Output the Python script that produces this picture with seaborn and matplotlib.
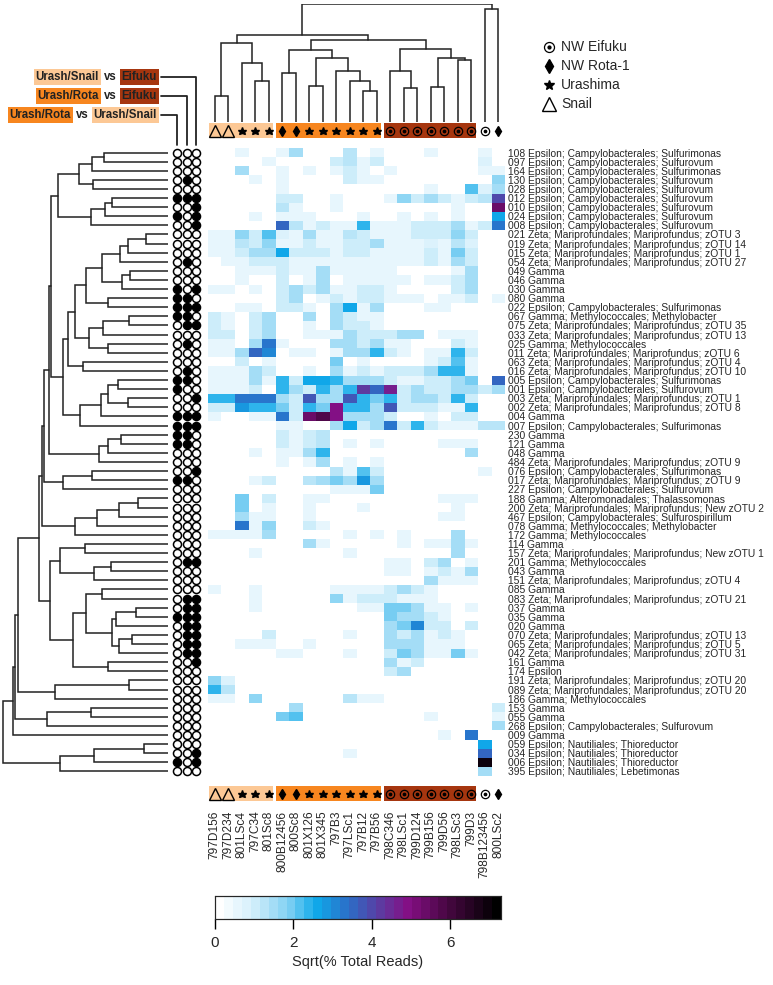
import numpy as np
import pandas as pd
import matplotlib
matplotlib.use("Agg")
import matplotlib.pyplot as plt
import seaborn as sns
from matplotlib.colors import LinearSegmentedColormap
from matplotlib.patches import Rectangle

W, H = 773, 985

samples = ['797D156', '797D234', '801LSc4', '797C34', '801Sc8', '800B12456', '800Sc8',
           '801X126', '801X345', '797B3', '797LSc1', '797B12', '797B56', '798C346',
           '798LSc1', '799D124', '799B156', '799D56', '798LSc3', '799D3', '798B123456', '800LSc2']
sites = ['Snail', 'Snail', 'Urashima', 'Urashima', 'Urashima', 'NW Rota-1', 'NW Rota-1',
         'Urashima', 'Urashima', 'Urashima', 'Urashima', 'Urashima', 'Urashima',
         'NW Eifuku', 'NW Eifuku', 'NW Eifuku', 'NW Eifuku', 'NW Eifuku', 'NW Eifuku', 'NW Eifuku',
         'NW Eifuku', 'NW Rota-1']
groups = ['Urash/Snail'] * 5 + ['Urash/Rota'] * 8 + ['Eifuku'] * 7 + [None, None]

otu_labels = [
    '108 Epsilon; Campylobacterales; Sulfurimonas', '097 Epsilon; Campylobacterales; Sulfurovum',
    '164 Epsilon; Campylobacterales; Sulfurimonas', '130 Epsilon; Campylobacterales; Sulfurovum',
    '028 Epsilon; Campylobacterales; Sulfurovum', '012 Epsilon; Campylobacterales; Sulfurovum',
    '010 Epsilon; Campylobacterales; Sulfurovum', '024 Epsilon; Campylobacterales; Sulfurovum',
    '008 Epsilon; Campylobacterales; Sulfurovum', '021 Zeta; Mariprofundales; Mariprofundus; zOTU 3',
    '019 Zeta; Mariprofundales; Mariprofundus; zOTU 14', '015 Zeta; Mariprofundales; Mariprofundus; zOTU 1',
    '054 Zeta; Mariprofundales; Mariprofundus; zOTU 27', '049 Gamma', '046 Gamma', '030 Gamma', '080 Gamma',
    '022 Epsilon; Campylobacterales; Sulfurimonas', '067 Gamma; Methylococcales; Methylobacter',
    '075 Zeta; Mariprofundales; Mariprofundus; zOTU 35', '033 Zeta; Mariprofundales; Mariprofundus; zOTU 13',
    '025 Gamma; Methylococcales', '011 Zeta; Mariprofundales; Mariprofundus; zOTU 6',
    '063 Zeta; Mariprofundales; Mariprofundus; zOTU 4', '016 Zeta; Mariprofundales; Mariprofundus; zOTU 10',
    '005 Epsilon; Campylobacterales; Sulfurimonas', '001 Epsilon; Campylobacterales; Sulfurovum',
    '003 Zeta; Mariprofundales; Mariprofundus; zOTU 1', '002 Zeta; Mariprofundales; Mariprofundus; zOTU 8',
    '004 Gamma', '007 Epsilon; Campylobacterales; Sulfurimonas', '230 Gamma', '121 Gamma', '048 Gamma',
    '484 Zeta; Mariprofundales; Mariprofundus; zOTU 9', '076 Epsilon; Campylobacterales; Sulfurimonas',
    '017 Zeta; Mariprofundales; Mariprofundus; zOTU 9', '227 Epsilon; Campylobacterales; Sulfurovum',
    '188 Gamma; Alteromonadales; Thalassomonas', '200 Zeta; Mariprofundales; Mariprofundus; New zOTU 2',
    '467 Epsilon; Campylobacterales; Sulfurospirillum', '078 Gamma; Methylococcales; Methylobacter',
    '172 Gamma; Methylococcales', '114 Gamma', '157 Zeta; Mariprofundales; Mariprofundus; New zOTU 1',
    '201 Gamma; Methylococcales', '043 Gamma', '151 Zeta; Mariprofundales; Mariprofundus; zOTU 4',
    '085 Gamma', '083 Zeta; Mariprofundales; Mariprofundus; zOTU 21', '037 Gamma', '035 Gamma', '020 Gamma',
    '070 Zeta; Mariprofundales; Mariprofundus; zOTU 13', '065 Zeta; Mariprofundales; Mariprofundus; zOTU 5',
    '042 Zeta; Mariprofundales; Mariprofundus; zOTU 31', '161 Gamma', '174 Epsilon',
    '191 Zeta; Mariprofundales; Mariprofundus; zOTU 20', '089 Zeta; Mariprofundales; Mariprofundus; zOTU 20',
    '186 Gamma; Methylococcales', '153 Gamma', '055 Gamma', '268 Epsilon; Campylobacterales; Sulfurovum',
    '009 Gamma', '059 Epsilon; Nautiliales; Thioreductor', '034 Epsilon; Nautiliales; Thioreductor',
    '006 Epsilon; Nautiliales; Thioreductor', '395 Epsilon; Nautiliales; Lebetimonas']

# sqrt(% total reads), one row per OTU, one column per sample
abundance = [
    [0, 0, .5, 0, 0, .5, 1.5, 0, 0, 0, 1.3, 0, .5, 0, 0, 0, .5, 0, 0, 0, .5, 0],
    [0, 0, 0, 0, .5, 0, 0, 0, 0, 1, 1.3, .5, 1, 0, 0, 0, 0, 0, 0, 0, .8, 0],
    [0, 0, 1.5, 0, 0, .5, 0, .5, 0, .5, 1, .5, 0, .5, 0, 0, 0, 0, 0, 0, .5, .5],
    [0, 0, 0, .5, 0, .5, 0, 0, 0, 0, 1, .5, .5, 0, 0, 0, 0, 0, 0, 0, 0, 1.6],
    [0, 0, 0, 0, 0, .5, 0, 0, 0, 0, 0, 0, 0, 0, 0, 0, .5, 0, 0, 2.2, .8, 1.5],
    [0, 0, 0, 0, 0, 1, 1, 0, 0, .5, 0, 0, 0, .5, 1.8, 1, 1.5, 1, .5, 1, 1.2, 4.0],
    [0, 0, 0, 0, 0, 1.3, .5, 0, 0, .5, 0, 0, 0, 0, 0, 0, 0, 0, .5, 0, 0, 5.3],
    [0, 0, 0, .5, 0, .5, .5, .5, 0, 0, 0, .5, 0, 0, .5, 0, .5, 0, .5, 0, 0, 2.7],
    [0, 0, 0, 0, 0, 3.6, 1.2, .5, 1, .5, .5, 2.3, .5, .5, .5, 1, 1, 1, 1.5, .5, 1, 3.2],
    [.5, .5, 1.6, 1, 2.2, .8, .5, 1.5, .5, .5, 1.2, 1, .5, .5, .5, 1, 1, 1, 1.6, 1, 0, 0],
    [.5, .5, 1.2, 1, 1.8, .5, .5, 1, .5, .5, 1, 1, 1.5, .5, .5, .5, .8, .5, 1.2, .8, 0, 0],
    [.5, .5, 1, 1.5, 1.5, 2.6, 1, 1, 1, .5, 1, 1, .5, .5, .5, .5, 1, .5, 2, 1, 0, 0],
    [0, .5, .5, 1, 1, 1, .5, .5, .5, .5, .5, .5, .5, .5, .5, .5, 1, .5, 1.5, 1, 0, 0],
    [0, 0, .5, .5, .5, 1, .5, .5, 1.5, .5, .5, .5, .5, .5, 0, 0, 0, 0, .5, 1.5, 0, 0],
    [0, 0, .5, 0, 0, 1, 0, .5, 1.5, 0, .5, .5, .5, .5, .5, 0, .5, .5, 1, 1.5, 0, 0],
    [.5, .5, 0, .5, 0, 1, 1.5, 1, 1.5, .5, .5, 1, 1, .5, 0, 0, 0, 0, 1, 1.5, 0, 0],
    [0, 0, 0, 0, 0, 1, 1.5, 0, .5, 1, .5, 1, 1, .5, .5, .5, 0, .5, .5, 1, 0, .5],
    [0, 0, .5, .5, 0, 1, 1, .5, 0, 1.5, 2.6, .5, 1.5, 0, 0, 0, .5, .5, 0, 0, 0, 0],
    [1, .5, 0, 1, 1.5, 0, 0, 1.5, 0, 1.5, 1, .5, .5, 0, 0, 0, 0, 0, 0, 0, 0, 0],
    [1, .5, 0, 1, 1.5, 0, 0, .5, 0, 1.5, 1, 1, .5, 0, 0, 0, 0, 0, 0, 0, 0, 0],
    [1, 1, 0, 1, 1.5, 0, 0, .5, .5, .5, 1.5, 1, 1, 1, 1.5, 1.5, 0, .5, .5, .5, 0, 0],
    [.5, .5, 0, 1.5, 3.2, .5, 0, 0, 0, 1.5, 1.5, 1, 1.5, .5, .5, 0, 0, 0, 1, .5, 0, 0],
    [.5, .5, 1.5, 3.6, 3.1, 0, .5, .5, 0, .5, 1.5, 1.5, 2.3, 1, .5, 0, .5, .5, 2.5, 1, 0, 0],
    [0, 0, 1, 0, .5, 0, 0, 0, 0, 2, 0, .5, 0, 0, 0, 0, .5, 1, 2.2, .5, 0, 0],
    [.5, .5, .5, 1.5, 1, 0, 0, .5, 0, 1.5, .5, 1, .5, 1, 1, 1, 1.5, 2.5, 2.5, .5, 0, 0],
    [.5, .5, .5, 1.5, .5, 2.5, 1, 2.6, 2.6, 2.5, 1.5, 1.5, 1.5, 1, .5, .5, 1, 1, 1.5, 2, 0, 3.5],
    [.5, .5, .5, 1, 0, 2.5, 1.5, 1, 2.5, 1.5, 2.5, 4.3, 3.6, 4.6, 1, 1.5, 1, 1, 1.5, 1.5, 1, 1.5],
    [2.5, 2.5, 3.3, 3.3, 3.3, 1.5, 1, 3.8, 1.5, 1.5, 3.8, 2.5, 2, 2.5, 1, 1.5, 1.5, 1, 2.5, 1, 0, 0],
    [1, 1, 2.8, 2.5, 2.5, 2, 1, 2.5, 2, 5, 2.5, 2.5, 1.5, 3.8, 1, 1, 1, .5, .5, 2.5, 0, 0],
    [.5, 0, 0, .5, .5, 3.2, 1, 5.3, 5.8, 5, 1.5, 1.5, 1.5, 1, 0, 0, .5, 0, 1, 1, 0, 0],
    [0, 0, 0, 0, 0, .5, .5, 0, 0, 1.5, 2.7, 1, 1.5, 3.2, 1, 2.5, 1, .5, .5, .5, 1.2, 1.2],
    [0, 0, 0, 0, 0, 1, .5, 1, 1.2, 0, 0, 0, 0, 0, 0, 0, 0, 0, 0, 0, 0, 0],
    [0, 0, 0, 0, 0, 1, .5, 1, 1.2, 0, .5, 0, .5, 0, 0, 0, 0, .5, .5, .5, 0, 0],
    [0, 0, 0, .5, 0, .5, .5, 1.5, 2.5, 0, 0, 0, 0, 0, 0, 0, 0, 0, 0, 1.5, 0, 0],
    [0, 0, 0, 0, 0, .5, 0, .5, 1.5, 0, .5, 0, .5, 0, 0, 0, 0, 0, 0, 0, 0, 0],
    [0, 0, 0, 0, 0, 0, 0, 0, 0, 1.2, .5, 2.2, 1, 0, 0, 0, 0, 0, 0, 0, .5, 0],
    [0, 0, 0, .5, 1, 0, 0, 1.2, 1.5, 2, 1.5, 2.8, 1.5, 0, 0, 0, 0, 0, 0, 0, 0, 0],
    [0, 0, 0, 0, 0, 0, 0, 0, 0, .5, .5, .5, 2, 0, 0, 0, 0, 0, 0, 0, 0, 0],
    [0, 0, 2, 0, 1, 0, 0, .5, .5, 0, 0, 0, 0, 0, 0, 0, 0, .5, .5, .5, 0, 0],
    [0, 0, 2, 0, .5, 0, 0, .5, 0, 0, 0, .5, 0, 0, 0, 0, 0, 0, .5, 0, 0, 0],
    [0, 0, 1.5, .5, .5, 0, 0, .5, 0, 0, 0, 0, 0, 0, 0, 0, 0, .5, .5, 0, 0, 0],
    [0, 0, 3.2, .5, 1.8, 0, 0, 1, .5, 0, 0, 0, 0, 0, 0, 0, 0, 0, 0, 0, 0, 0],
    [.5, .5, .5, .5, 1.5, 0, 0, 0, 0, 0, .5, 0, .5, 0, .5, 0, 0, 0, 1.5, 0, 0, 0],
    [0, 0, 0, 0, 0, 0, 0, 1.5, .5, 0, 0, 0, 0, 0, .5, 0, .5, .5, 1.5, .5, 0, 0],
    [0, 0, 0, .5, 0, 0, 0, 0, 0, 0, .5, 0, 0, 0, 0, 0, 0, 0, 1.5, 0, 0, 0],
    [0, 0, 0, 0, 0, 0, 0, 0, 0, 0, 0, 0, 0, .5, .5, 0, 1, 1.5, 0, .5, 0, 0],
    [0, 0, 0, 0, 0, 0, 0, 0, 0, 0, 0, 0, 0, .5, .5, 0, .5, 1, .5, 1.5, 0, 0],
    [0, 0, 0, 0, 0, 0, 0, 0, 0, 0, 0, 0, 0, 0, 0, 0, 1.5, .5, .5, .5, 0, 0],
    [.5, 0, 0, .5, 0, 0, 0, 0, 0, .5, .5, .5, .5, 1, 1.5, 1, .5, 0, 0, 0, 0, 0],
    [0, 0, 0, .5, 0, 0, 0, 0, 0, 1.8, .5, 1, 1, 1, .5, .5, .5, 0, 0, 0, 0, 0],
    [0, 0, 0, .5, 0, 0, 0, 0, 0, 0, 0, .5, .5, 2, 2, 1.5, .5, .5, 0, .5, 0, 0],
    [0, 0, 0, 0, 0, 0, 0, 0, 0, 0, 0, 0, 0, 2, 1.5, 1.5, 1, .5, 0, 0, 0, 0],
    [0, 0, 0, 0, 0, 0, 0, 0, 0, 0, 0, 0, 0, 1.5, 2, 3, 1, 1, 0, 1, 0, 0],
    [0, 0, 0, 0, 1, 0, 0, 0, 0, 0, .5, 0, 0, 1.5, 1, 1.5, .5, 1, .5, 0, 0, 0],
    [0, 0, .5, .5, .5, 0, 0, .5, 0, 0, 0, 0, 0, 1.5, 1.5, 1.5, .5, .5, .5, 0, 0, 0],
    [0, 0, 0, 0, 0, .5, .5, 0, 0, 0, .5, 0, 0, 1, 2, 1.5, .5, .5, 2, .5, 0, 0],
    [0, 0, 0, 0, 0, 0, 0, 0, 0, 0, 0, 0, 0, 1.5, .5, 1, 0, 0, 0, 0, 0, 0],
    [0, 0, 0, 0, 0, 0, 0, 0, 0, 0, 0, 0, 0, 1, 1.5, 0, 0, 0, 0, 0, 0, 0],
    [1.8, .7, 0, 0, 0, 0, 0, 0, 0, 0, 0, 0, 0, 0, 0, 0, 0, 0, 0, 0, 0, 0],
    [2.3, 1.3, 0, 0, 0, 0, 0, 0, 0, 0, 0, 0, 0, 0, 0, 0, 0, 0, 0, 0, 0, 0],
    [.5, .5, 0, 1.8, 0, 0, 0, 0, 0, 0, 1.3, .5, .5, 0, 0, 0, 0, 0, 0, 0, 0, 0],
    [0, 0, 0, 0, 0, 0, 1.5, 0, 0, 0, 0, 0, 0, 0, 0, 0, 0, 0, 0, 0, 0, 1],
    [0, 0, 0, 0, 0, 2, 2.2, 0, 0, 0, 0, 0, 0, 0, 0, 0, .5, 0, 0, 0, 0, .5],
    [0, 0, 0, 0, 0, 0, 0, 0, 0, 0, 0, 0, 0, 0, 0, 0, 0, 0, 0, 0, 0, 1.5],
    [0, 0, 0, 0, 0, 0, 0, 0, 0, 0, 0, 0, 0, 0, 0, 0, 0, .5, 0, 3.3, 0, 0],
    [0, 0, 0, 0, 0, 0, 0, 0, 0, 0, 0, 0, 0, 0, 0, 0, 0, 0, 0, 0, 2.7, 0],
    [0, 0, 0, 0, 0, 0, 0, 0, 0, 0, .5, 0, 0, 0, 0, 0, 0, 0, 0, 0, 3.5, 0],
    [0, 0, 0, 0, 0, 0, 0, 0, 0, 0, 0, 0, 0, 0, 0, 0, 0, 0, 0, 0, 7.0, 0],
    [0, 0, 0, 0, 0, 0, 0, 0, 0, 0, 0, 0, 0, 0, 0, 0, 0, 0, 0, 0, 1.5, 0],
]

# significance flags (1 = filled circle), one per OTU row
rota_vs_snail = [0, 0, 0, 0, 0, 1, 0, 1, 0, 0, 0, 0, 0, 0, 0, 1, 1, 1, 1, 0, 0, 0, 0, 0, 0, 1, 1, 0, 0, 1,
                 1, 1, 1, 0, 0, 0, 1, 0, 0, 0, 0, 0, 0, 0, 0, 0, 0, 0, 0, 0, 0, 1, 0, 0, 0, 0, 0, 0, 0, 0,
                 0, 0, 0, 0, 0, 0, 0, 1, 0]
rota_vs_eifuku = [0, 0, 0, 1, 0, 1, 0, 0, 0, 0, 0, 0, 1, 0, 0, 0, 1, 1, 1, 1, 0, 1, 0, 0, 1, 1, 0, 0, 0, 1,
                  1, 1, 1, 0, 0, 0, 1, 0, 0, 0, 0, 0, 0, 0, 0, 1, 0, 0, 0, 1, 1, 1, 1, 1, 1, 1, 0, 0, 0, 0,
                  0, 0, 0, 0, 0, 0, 0, 0, 0]
snail_vs_eifuku = [0, 0, 0, 0, 0, 1, 1, 1, 1, 0, 0, 0, 0, 0, 0, 1, 0, 1, 0, 1, 0, 0, 0, 0, 0, 0, 0, 1, 0, 1,
                   1, 0, 0, 0, 0, 1, 0, 0, 0, 0, 0, 0, 0, 0, 0, 1, 0, 0, 0, 1, 1, 1, 1, 1, 1, 1, 1, 0, 0, 0,
                   0, 0, 0, 0, 0, 0, 1, 1, 0]

# dendrograms: (left, right, merge height); ints are leaf indices
col_left = ((0, 1, 26), (2, (3, 4, 41), 59), 79)
col_mid = ((5, 6, 49), ((7, 8, 36), (9, (10, (11, 12, 31), 41), 51), 64), 72)
col_right = ((13, (14, 15, 34), 51), ((16, 17, 35), (18, 19, 62), 64), 73)
col_tree = ((col_left, (col_mid, col_right, 82), 87), (20, 21, 113), 118)

rA = (((0, 1, 64), 2, 76), (3, 4, 75), 89)
rB = (((5, 6, 56), 7, 63), 8, 77)
r10_16 = ((((9, 10, 22), 11, 40), 12, 48), ((13, 14, 38), 15, 46), 66)
r10_18 = (r10_16, (16, 17, 60), 82)
r19_23 = (((18, 19, 39), 20, 65), (21, 22, 60), 79)
r10_25 = ((r10_18, r19_23, 93), (23, 24, 85), 100)
r26_31 = (((((25, 26, 50), (27, 28, 40), 60), 29, 67), 30, 88))
r1_31 = ((rA, rB, 110), (r10_25, r26_31, 105), 117)
r1_35 = (r1_31, (((31, 32, 47), 33, 60), 34, 69), 119)
rC = ((35, 36, 76), 37, 105)
rD = ((((38, 39, 30), 40, 49), 41, 71), 42, 93)
rE = ((43, 44, 83), ((45, 46, 57), 47, 74), 108)
rF1 = ((((50, 51, 32), 52, 52), ((53, 54, 36), 55, 49), 56))
rF = (((48, 49, 66), rF1, 82), (56, 57, 60), 95)
rG = ((58, 59, 39), 60, 113)
rH = ((61, 62, 77), 63, 121)
rI = (((65, 66, 24), 67, 74), 68, 108)
r_p2 = ((r1_35, rC, 124), rD, 126)
r_p4 = ((r_p2, (rE, rF, 118), 129), rG, 150)
row_tree = ((((r_p4, rH, 153), 64, 155)), rI, 165)

box_colors = {'Urash/Snail': '#fcc895', 'Urash/Rota': '#f7861f', 'Eifuku': '#a6360f'}
cmap = LinearSegmentedColormap.from_list(
    'reads', [(0, '#ffffff'), (0.12, '#d3effb'), (0.25, '#80d0f3'), (0.35, '#0faaea'),
              (0.47, '#2d6cc6'), (0.58, '#5d3aa0'), (0.68, '#840f84'), (0.83, '#45073f'), (1, '#000000')], N=32)

sns.set_style('white')
plt.rcParams['font.family'] = ['Liberation Sans', 'DejaVu Sans']

fig = plt.figure(figsize=(W / 100, H / 100), dpi=100)


def px_axes(x0, y0, x1, y1):
    return fig.add_axes([x0 / W, 1 - y1 / H, (x1 - x0) / W, (y1 - y0) / H])


def draw_tree(ax, node, top):
    if isinstance(node, int):
        return node + 0.5, 0.0
    left, right, h = node
    p1, h1 = draw_tree(ax, left, top)
    p2, h2 = draw_tree(ax, right, top)
    if top:
        ax.plot([p1, p1, p2, p2], [h1, h, h, h2], color='#222222', lw=1.1, solid_joinstyle='miter')
    else:
        ax.plot([h1, h, h, h2], [p1, p1, p2, p2], color='#222222', lw=1.1, solid_joinstyle='miter')
    return (p1 + p2) / 2, h


def site_marker(ax, x, y, site, scale=1.0):
    if site == 'Snail':
        ax.plot(x, y, marker='^', ms=8 * scale, mfc='none', mec='black', mew=1.0)
    elif site == 'Urashima':
        ax.plot(x, y, marker='*', ms=6.2 * scale, color='black')
    elif site == 'NW Rota-1':
        ax.plot(x, y, marker='d', ms=5.6 * scale, color='black')
    else:
        ax.plot(x, y, marker='o', ms=6.0 * scale, mfc='none', mec='black', mew=0.9)
        ax.plot(x, y, marker='o', ms=1.7 * scale, color='black')


df = pd.DataFrame(abundance, index=otu_labels, columns=samples)

# heatmap + colourbar
ax_hm = px_axes(208, 148, 505, 776)
ax_cb = px_axes(215, 896, 501, 919)
sns.heatmap(df, ax=ax_hm, cmap=cmap, vmin=0, vmax=7.3, cbar_ax=ax_cb,
            xticklabels=samples, yticklabels=otu_labels,
            cbar_kws={'orientation': 'horizontal', 'ticks': [0, 2, 4, 6]})
ax_hm.yaxis.tick_right()
ax_hm.tick_params(axis='y', length=0, pad=2, labelsize=7.4, labelright=True, labelleft=False)
ax_hm.set_yticklabels(otu_labels, rotation=0)
ax_hm.tick_params(axis='x', length=0, pad=25, labelsize=8.6)
ax_hm.set_xticklabels(samples, rotation=90)
ax_hm.set_xlabel('')
ax_hm.set_ylabel('')

ax_cb.tick_params(axis='x', length=7, width=1, labelsize=11, pad=5, color='black')
for s in ax_cb.spines.values():
    s.set_visible(True)
    s.set_linewidth(0.8)
ax_cb.set_xlabel('Sqrt(% Total Reads)', fontsize=10.5, labelpad=4)

# column dendrogram
ax_ct = px_axes(208, 4, 505, 122)
draw_tree(ax_ct, col_tree, True)
ax_ct.set_xlim(0, len(samples))
ax_ct.set_ylim(0, 118)
ax_ct.axis('off')

# row dendrogram
ax_rt = px_axes(2, 148, 168, 776)
draw_tree(ax_rt, row_tree, False)
ax_rt.set_ylim(len(otu_labels), 0)
ax_rt.set_xlim(166, 0)
ax_rt.axis('off')

# site symbol strips above and below the heatmap
for y0, y1 in [(123, 138), (786, 801)]:
    ax_s = px_axes(208, y0, 505, y1)
    start = 0
    for i in range(1, len(groups) + 1):
        if i == len(groups) or groups[i] != groups[start]:
            if groups[start] is not None:
                ax_s.add_patch(Rectangle((start + 0.05, 0), i - start - 0.2, 1,
                                         color=box_colors[groups[start]], lw=0))
            start = i
    for j, site in enumerate(sites):
        site_marker(ax_s, j + 0.5, 0.47, site)
    ax_s.set_xlim(0, len(samples))
    ax_s.set_ylim(0, 1)
    ax_s.axis('off')

# significance circles
ax_sig = px_axes(172, 148, 201, 776)
for k, flags in enumerate([rota_vs_snail, rota_vs_eifuku, snail_vs_eifuku]):
    for i, f in enumerate(flags):
        ax_sig.plot(k, i + 0.5, marker='o', ms=5.8, mec='black', mew=1.1,
                    mfc='black' if f else 'white')
ax_sig.set_xlim(-0.5, 2.5)
ax_sig.set_ylim(len(otu_labels), 0)
ax_sig.axis('off')

# overlay in pixel coordinates for the legends
ov = px_axes(0, 0, W, H)
ov.set_xlim(0, W)
ov.set_ylim(H, 0)
ov.axis('off')
ov.patch.set_alpha(0)
renderer = fig.canvas.get_renderer()

comparisons = [
    ([('Urash/Snail', 'Urash/Snail'), ('vs', None), ('Eifuku', 'Eifuku')], 77, 196.2),
    ([('Urash/Rota', 'Urash/Rota'), ('vs', None), ('Eifuku', 'Eifuku')], 96, 186.5),
    ([('Urash/Rota', 'Urash/Rota'), ('vs', None), ('Urash/Snail', 'Urash/Snail')], 115, 176.8),
]
for parts, y, xcol in comparisons:
    x = 157
    for txt, grp in reversed(parts):
        kw = {}
        if grp is not None:
            kw['bbox'] = dict(boxstyle='square,pad=0.15', fc=box_colors[grp], ec='none')
        t = ov.text(x, y, txt, ha='right', va='center', fontsize=8.3, fontweight='bold',
                    color='#222222', **kw)
        bb = t.get_window_extent(renderer)
        x -= bb.width + 5
    ov.plot([161, xcol, xcol], [y, y, 145], color='#222222', lw=1.3)

legend_sites = ['NW Eifuku', 'NW Rota-1', 'Urashima', 'Snail']
for i, site in enumerate(legend_sites):
    y = 47 + 19 * i
    site_marker(ov, 549, y, site, scale=1.2)
    ov.text(561, y, site, ha='left', va='center', fontsize=10)

fig.savefig('out.png', dpi=100)
